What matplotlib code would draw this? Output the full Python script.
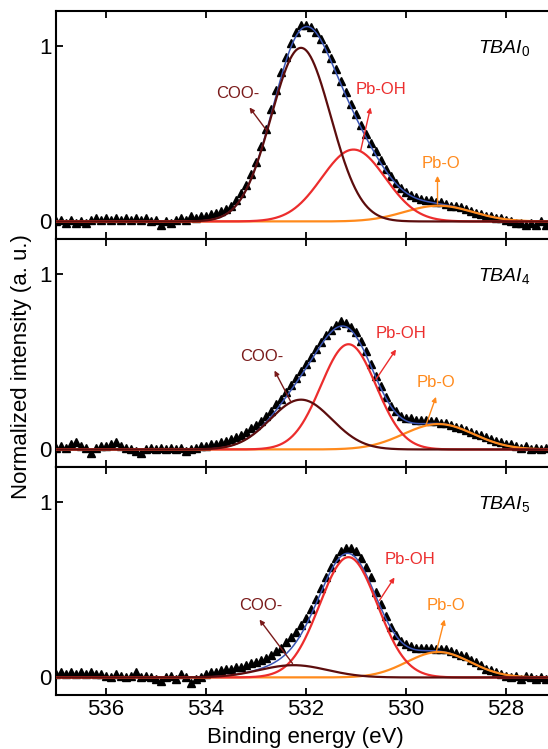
import numpy as np
import matplotlib
matplotlib.use("Agg")
import matplotlib.pyplot as plt

plt.rcParams['font.family'] = ['Liberation Sans', 'DejaVu Sans']
plt.rcParams['mathtext.fontset'] = 'custom'
plt.rcParams['mathtext.rm'] = 'Liberation Sans'
plt.rcParams['mathtext.it'] = 'Liberation Sans:italic'

# measured O 1s points, binding energy 537.0 -> 527.2 eV in 0.1 eV steps
energy = np.round(np.arange(537.0, 527.15, -0.1), 1)

sample_index = ['0', '4', '5']

tbai0_data = [
    0.00, 0.01, -0.01, 0.01, -0.01, 0.00, -0.01, 0.01, 0.02, 0.01,
    0.02, 0.01, 0.02, 0.01, 0.02, 0.01, 0.02, 0.01, 0.02, 0.00,
    0.01, -0.02, 0.00, -0.01, 0.01, 0.02, 0.01, 0.03, 0.02, 0.03,
    0.03, 0.04, 0.05, 0.06, 0.07, 0.09, 0.12, 0.16, 0.21, 0.27,
    0.34, 0.43, 0.53, 0.64, 0.75, 0.85, 0.94, 1.02, 1.08, 1.12,
    1.12, 1.11, 1.08, 1.04, 0.99, 0.93, 0.87, 0.80, 0.74, 0.67,
    0.61, 0.55, 0.50, 0.45, 0.40, 0.35, 0.30, 0.26, 0.22, 0.19,
    0.17, 0.15, 0.14, 0.13, 0.12, 0.12, 0.11, 0.11, 0.10, 0.09,
    0.09, 0.08, 0.07, 0.06, 0.05, 0.04, 0.03, 0.03, 0.02, 0.02,
    0.01, 0.00, -0.01, -0.01, -0.02, -0.01, -0.02, 0.00, -0.02]

tbai4_data = [
    0.01, 0.02, 0.01, 0.03, 0.04, 0.02, 0.01, -0.02, 0.01, 0.02,
    0.02, 0.03, 0.04, 0.02, 0.01, 0.00, -0.01, -0.02, 0.00, 0.01,
    0.00, 0.01, 0.00, 0.01, 0.00, 0.01, -0.01, 0.00, 0.01, 0.02,
    0.02, 0.03, 0.03, 0.04, 0.05, 0.06, 0.07, 0.08, 0.10, 0.12,
    0.14, 0.16, 0.19, 0.22, 0.26, 0.29, 0.33, 0.37, 0.41, 0.45,
    0.49, 0.53, 0.57, 0.61, 0.65, 0.68, 0.71, 0.73, 0.72, 0.70,
    0.67, 0.62, 0.56, 0.49, 0.42, 0.36, 0.30, 0.25, 0.22, 0.19,
    0.18, 0.18, 0.17, 0.17, 0.17, 0.16, 0.16, 0.15, 0.15, 0.14,
    0.13, 0.12, 0.11, 0.10, 0.09, 0.08, 0.07, 0.06, 0.05, 0.04,
    0.03, 0.03, 0.02, 0.01, 0.02, 0.00, 0.01, 0.00, 0.01]

tbai5_data = [
    0.02, 0.03, 0.02, 0.03, 0.02, 0.03, 0.02, 0.03, 0.02, 0.02,
    0.01, 0.00, 0.02, 0.01, 0.00, 0.01, 0.03, 0.00, 0.01, 0.00,
    -0.01, -0.02, 0.00, 0.01, -0.01, 0.02, 0.00, -0.03, -0.01, 0.00,
    0.02, 0.03, 0.03, 0.04, 0.05, 0.05, 0.06, 0.06, 0.07, 0.08,
    0.09, 0.10, 0.11, 0.13, 0.15, 0.17, 0.20, 0.23, 0.26, 0.30,
    0.34, 0.39, 0.45, 0.51, 0.57, 0.63, 0.68, 0.72, 0.74, 0.74,
    0.72, 0.68, 0.63, 0.57, 0.49, 0.42, 0.35, 0.29, 0.24, 0.21,
    0.19, 0.18, 0.17, 0.17, 0.17, 0.17, 0.16, 0.16, 0.16, 0.15,
    0.14, 0.13, 0.12, 0.10, 0.09, 0.07, 0.05, 0.04, 0.03, 0.02,
    0.01, 0.00, 0.01, -0.01, 0.01, 0.00, -0.01, 0.00, -0.01]

# fitted components (center eV, peak height, FWHM eV), one entry per sample
coo_center = [532.10, 532.10, 532.25]
coo_height = [0.99, 0.284, 0.07]
coo_fwhm = [1.40, 1.45, 1.60]

pboh_center = [531.05, 531.15, 531.15]
pboh_height = [0.41, 0.60, 0.686]
pboh_fwhm = [1.50, 1.30, 1.36]

pbo_center = [529.35, 529.35, 529.35]
pbo_height = [0.09, 0.145, 0.145]
pbo_fwhm = [1.60, 1.65, 1.50]

data_sets = [tbai0_data, tbai4_data, tbai5_data]

# label placement: text (x, y), arrow head, arrow tail
label_pos = [
    {'COO-': [(533.37, 0.73), (533.13, 0.65), (532.79, 0.52)],
     'Pb-OH': [(530.51, 0.75), (530.71, 0.65), (530.91, 0.40)],
     'Pb-O': [(529.31, 0.33), (529.37, 0.26), (529.37, 0.10)]},
    {'COO-': [(532.89, 0.53), (532.63, 0.45), (532.30, 0.27)],
     'Pb-OH': [(530.10, 0.66), (530.20, 0.57), (530.60, 0.40)],
     'Pb-O': [(529.40, 0.38), (529.40, 0.30), (529.60, 0.14)]},
    {'COO-': [(532.90, 0.41), (532.93, 0.33), (532.27, 0.08)],
     'Pb-OH': [(529.93, 0.67), (530.23, 0.57), (530.53, 0.44)],
     'Pb-O': [(529.20, 0.41), (529.23, 0.33), (529.40, 0.14)]},
]

c_coo = '#5c0d0d'
c_coo_txt = '#7a1a1a'
c_pboh = '#ec2d2d'
c_pbo = '#ff8a1c'
c_env = '#3a55b4'


def gauss(x, center, height, fwhm):
    sigma = fwhm / 2.3548
    return height * np.exp(-(x - center) ** 2 / (2 * sigma ** 2))


x_fit = np.linspace(537.0, 527.0, 800)

fig = plt.figure(figsize=(5.48, 7.49), dpi=100)
left, width, h = 0.1022, 0.9124, 0.3044
bottoms = [0.6809, 0.3765, 0.0721]

for i in range(3):
    ax = fig.add_axes([left, bottoms[i], width, h])
    coo = gauss(x_fit, coo_center[i], coo_height[i], coo_fwhm[i])
    pboh = gauss(x_fit, pboh_center[i], pboh_height[i], pboh_fwhm[i])
    pbo = gauss(x_fit, pbo_center[i], pbo_height[i], pbo_fwhm[i])

    ax.plot(energy, data_sets[i], linestyle='none', marker='^', color='black',
            markersize=5.5, zorder=1)
    ax.plot(x_fit, coo + pboh + pbo, color=c_env, lw=1.1, zorder=2)
    ax.plot(x_fit, pbo, color=c_pbo, lw=1.6, zorder=3)
    ax.plot(x_fit, pboh, color=c_pboh, lw=1.6, zorder=4)
    ax.plot(x_fit, coo, color=c_coo, lw=1.6, zorder=5)

    colors = {'COO-': c_coo_txt, 'Pb-OH': c_pboh, 'Pb-O': c_pbo}
    for name, (txt, head, tail) in label_pos[i].items():
        ax.text(txt[0], txt[1], name, color=colors[name], fontsize=12,
                ha='center', va='center', zorder=6)
        ax.annotate('', xy=head, xytext=tail,
                    arrowprops=dict(arrowstyle='-|>', color=colors[name],
                                    lw=1.0, mutation_scale=7,
                                    shrinkA=0, shrinkB=0), zorder=6)

    ax.text(528.03, 0.96, r'$\mathit{TBAI}_{%s}$' % sample_index[i],
            fontsize=14, ha='center', va='baseline')

    ax.set_xlim(537.0, 527.0)
    ax.set_ylim(-0.1, 1.2)
    ax.set_yticks([0, 1])
    ax.set_xticks([536, 534, 532, 530, 528])
    ax.tick_params(axis='both', direction='in', length=5, width=1.3,
                   labelsize=16, top=True, pad=3)
    if i < 2:
        ax.tick_params(labelbottom=False)
    for s in ax.spines.values():
        s.set_linewidth(1.5)
    ax.spines['right'].set_visible(False)

fig.text(0.558, 0.016, 'Binding energy (eV)', fontsize=16, ha='center', va='center')
fig.text(0.04, 0.511, 'Normalized intensity (a. u.)', fontsize=16,
         rotation=90, ha='center', va='center')

fig.savefig('out.png', dpi=100)
